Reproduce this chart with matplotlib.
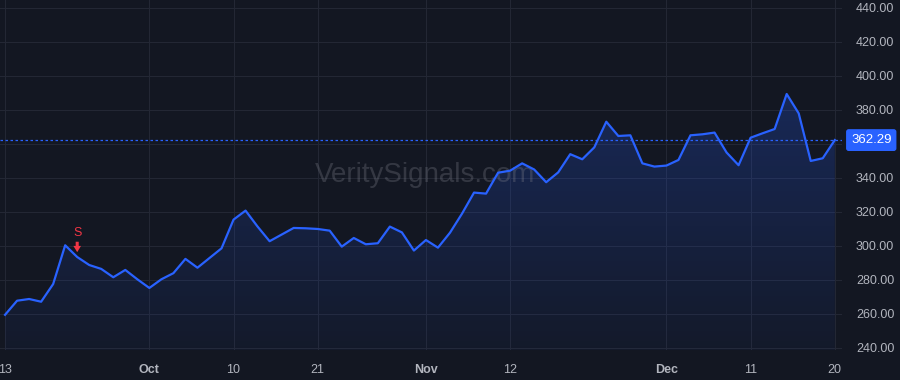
import matplotlib
matplotlib.use("Agg")
import matplotlib.pyplot as plt
import numpy as np
import pandas as pd
from matplotlib.colors import LinearSegmentedColormap

plt.rcParams["font.family"] = ["Liberation Sans", "DejaVu Sans"]

# trading days, Sep 13 -> Dec 20 (Thanksgiving closed)
dates = pd.bdate_range("2024-09-13", "2024-12-20")
dates = dates[dates != pd.Timestamp("2024-11-28")]

prices = [
    259.5, 267.8, 268.8, 267.2, 277.6, 300.4, 293.5, 288.8, 286.5, 281.6,
    285.9, 280.4, 275.3, 280.4, 284.0, 292.4, 287.2, 292.9, 298.6, 315.5,
    320.8, 311.4, 302.8, 306.7, 310.6, 310.4, 310.0, 309.0, 299.6, 304.7,
    301.0, 301.6, 311.4, 308.0, 297.3, 303.5, 299.0, 307.8, 319.0, 331.4,
    330.8, 343.1, 344.3, 348.6, 345.0, 337.5, 343.3, 354.0, 351.0, 358.0,
    373.1, 364.7, 365.1, 348.6, 346.7, 347.3, 350.6, 365.1, 365.7, 366.7,
    355.0, 347.5, 363.7, 366.3, 368.8, 389.4, 378.0, 350.0, 351.6, 362.29,
]

tick_dates = ["2024-09-13", "2024-10-01", "2024-10-10", "2024-10-21",
              "2024-11-01", "2024-11-12", "2024-12-02", "2024-12-11",
              "2024-12-20"]
tick_labels = ["13", "Oct", "10", "21", "Nov", "12", "Dec", "11", "20"]
month_labels = ["Oct", "Nov", "Dec"]

y_ticks = np.arange(240, 441, 20)

signal_date = "2024-09-23"
signal_label = "S"

BG = "#131722"
LINE = "#2962ff"
GRID = "#232734"
TEXT = "#b2b5be"
RED = "#f23645"

x = np.arange(len(prices))
y = np.array(prices)
last = prices[-1]
y_lo, y_hi = 238.8, 444.7

fig = plt.figure(figsize=(9, 3.8), dpi=100, facecolor=BG)
ax = fig.add_axes([0.0, 30 / 380, 842 / 900, 350 / 380])
ax.set_facecolor(BG)

ax.set_xlim(-0.42, 69.6)
ax.set_ylim(y_lo, y_hi)

# gradient fill under the line
fill = ax.fill_between(x, y, y_lo, color="none")
cmap = LinearSegmentedColormap.from_list(
    "grad", [(0.161, 0.384, 1.0, 0.04), (0.161, 0.384, 1.0, 0.24)]
)
grad = np.linspace(0, 1, 256).reshape(-1, 1)
img = ax.imshow(
    grad, cmap=cmap, aspect="auto", origin="lower",
    extent=[x[0], x[-1], y_lo, max(prices)], zorder=1,
)
img.set_clip_path(fill.get_paths()[0], transform=ax.transData)

ax.plot(x, y, color=LINE, lw=1.6, zorder=3)

# last price line + tag
ax.axhline(last, color=LINE, lw=0.9, ls=(0, (2, 2)), zorder=2)
ax.text(
    1.0 + 9 / 842, last, f"{last:.2f}", transform=ax.get_yaxis_transform(),
    ha="left", va="center", color="white", fontsize=9.5, zorder=5,
    clip_on=False,
    bbox=dict(boxstyle="round,pad=0.32,rounding_size=0.15", fc=LINE, ec=LINE),
)

# sell signal arrow + letter
si = list(dates).index(pd.Timestamp(signal_date))
ax.annotate(
    "", xy=(si, prices[si]), xycoords="data",
    xytext=(0, 11), textcoords="offset points",
    arrowprops=dict(arrowstyle="simple,head_width=0.55,head_length=0.45,tail_width=0.22",
                    color=RED, shrinkA=0, shrinkB=3.5, lw=0),
    zorder=6,
)
ax.annotate(
    signal_label, xy=(si, prices[si]), xycoords="data",
    xytext=(0, 17), textcoords="offset points",
    ha="center", va="center", color=RED, fontsize=9, zorder=6,
)

# watermark
ax.text(0.505, 0.50, "VeritySignals.com", transform=ax.transAxes,
        ha="center", va="center", fontsize=20, color="#787b86",
        alpha=0.33, zorder=2)

tick_pos = [list(dates).index(pd.Timestamp(d)) for d in tick_dates]
ax.set_xticks(tick_pos)
ax.set_xticklabels(tick_labels)
for lbl in ax.get_xticklabels():
    if lbl.get_text() in month_labels:
        lbl.set_fontweight("bold")

ax.set_yticks(y_ticks)
# the 360 label sits under the price tag in the original
ax.set_yticklabels(["" if v == 360 else f"{v:.2f}" for v in y_ticks])
ax.yaxis.tick_right()

ax.tick_params(axis="x", length=0, pad=10, colors=TEXT, labelsize=9)
ax.tick_params(axis="y", length=0, pad=10, colors=TEXT, labelsize=9)

ax.grid(True, color=GRID, lw=0.8, zorder=0)
ax.set_axisbelow(True)
for s in ax.spines.values():
    s.set_visible(False)

fig.savefig("out.png", dpi=100, facecolor=BG)
